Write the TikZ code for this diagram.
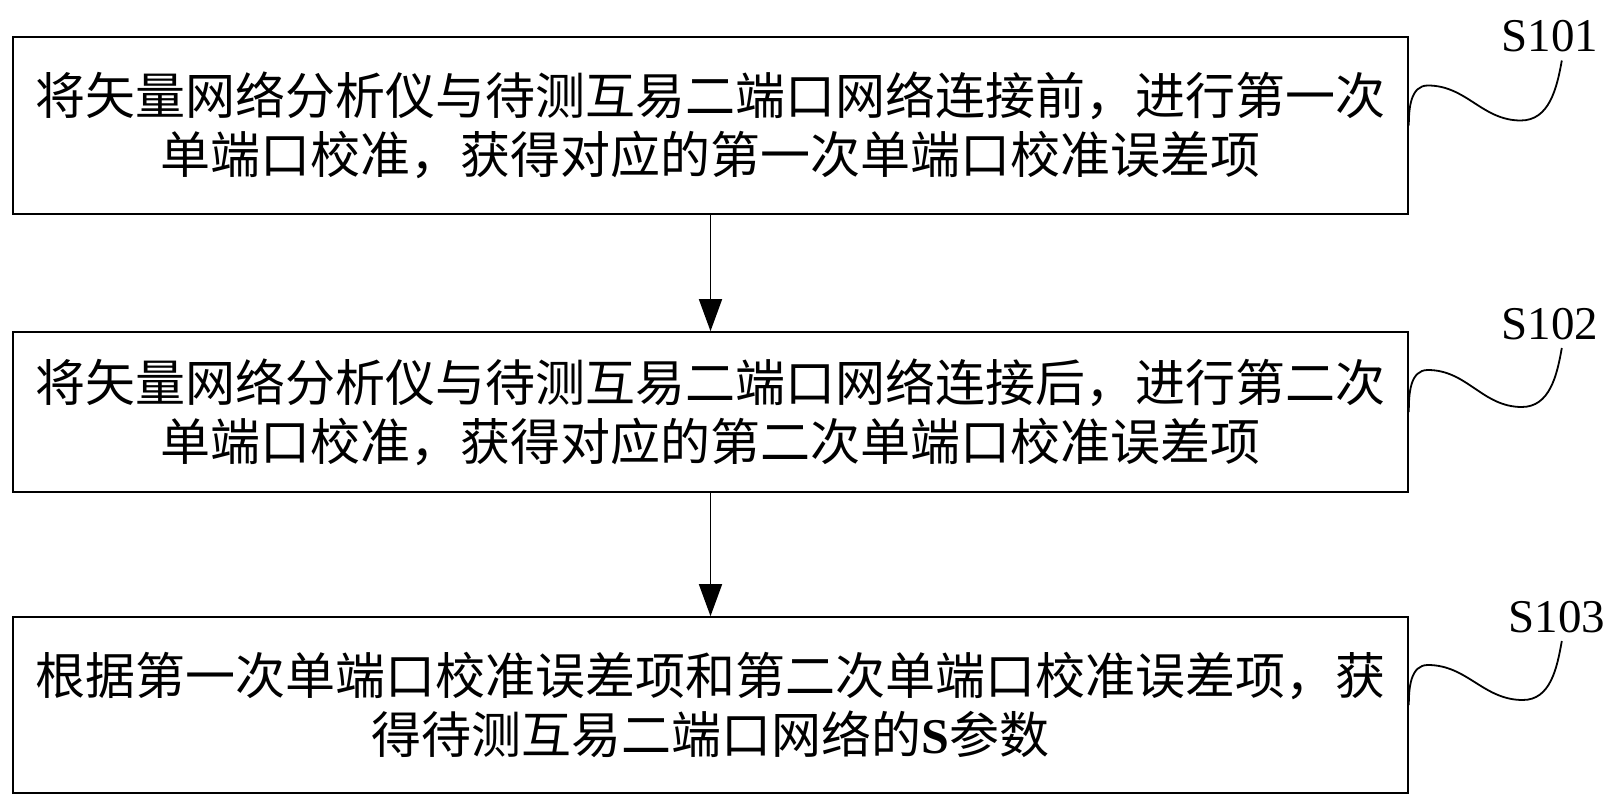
\documentclass[tikz,border=0pt]{standalone}
\usepackage{fontspec}
\setmainfont{Liberation Serif}
\newfontfamily\cjk{Noto Sans CJK SC}
\usetikzlibrary{arrows.meta}

\tikzset{
  stepbox/.style={draw, line width=1.6pt, minimum width=1395pt, inner sep=0pt,
    align=center, font=\cjk\fontsize{50}{59}\selectfont},
  flow/.style={line width=1.6pt, -{Triangle[width=23pt,length=32pt]}},
  lead/.style={line width=1.8pt},
  tag/.style={inner sep=0pt, anchor=south, font=\fontsize{47}{47}\selectfont}
}

\begin{document}
\begin{tikzpicture}[x=1pt,y=1pt]
\useasboundingbox (0,0) rectangle (1619,807);
\node[stepbox, minimum height=177pt] (b1) at (710.5,681.5)
  {将矢量网络分析仪与待测互易二端口网络连接前，进行第一次\\单端口校准，获得对应的第一次单端口校准误差项};
\node[stepbox, minimum height=160pt] (b2) at (710.5,395)
  {将矢量网络分析仪与待测互易二端口网络连接后，进行第二次\\单端口校准，获得对应的第二次单端口校准误差项};
\node[stepbox, minimum height=176pt] (b3) at (710.5,102)
  {根据第一次单端口校准误差项和第二次单端口校准误差项，获\\得待测互易二端口网络的{\rmfamily\bfseries S}参数};
\draw[flow] (b1) -- (b2);
\draw[flow] (b2) -- (b3);
% step labels
\coordinate (e1) at ([shift={(153,65)}]b1.east);
\coordinate (e2) at ([shift={(153,64)}]b2.east);
\coordinate (e3) at ([shift={(153,64)}]b3.east);
\node[tag, xshift=-12pt, yshift=8pt] (l1) at (e1) {S101};
\node[tag, xshift=-12pt, yshift=8pt] (l2) at (e2) {S102};
\node[tag, xshift=-5pt, yshift=8pt] (l3) at (e3) {S103};
\draw[lead] (b1.east) to[out=90,in=180] ++(19,40) to[out=0,in=180] ++(93,-35) to[out=0,in=-100] (e1);
\draw[lead] (b2.east) to[out=90,in=180] ++(19,42) to[out=0,in=180] ++(94,-37) to[out=0,in=-100] (e2);
\draw[lead] (b3.east) to[out=90,in=180] ++(19,40) to[out=0,in=180] ++(95,-35) to[out=0,in=-100] (e3);
\end{tikzpicture}
\end{document}
